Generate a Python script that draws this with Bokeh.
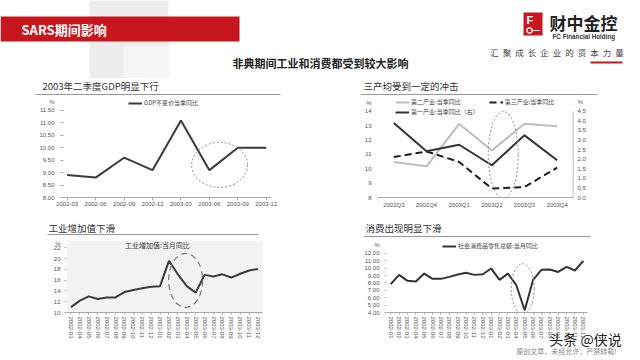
from bokeh.plotting import figure
from bokeh.models import (Range1d, FactorRange, LinearAxis, FixedTicker, NumeralTickFormatter,
                          Legend, LegendItem, AllLabels)
from bokeh.layouts import column, row
from bokeh.embed import file_html
from bokeh.resources import INLINE
from bokeh.core.properties import value

FONT = "Noto Sans CJK SC"
TICKFONT = "Liberation Sans"

# ---------------- data ----------------
gdp_quarters = ["2002-03", "2002-06", "2002-09", "2002-12", "2003-03", "2003-06", "2003-09", "2003-12"]
gdp_yoy = [8.9, 8.8, 9.6, 9.1, 11.1, 9.1, 10.0, 10.0]

ind_quarters = ["2002Q3", "2002Q4", "2003Q1", "2003Q2", "2003Q3", "2003Q4"]
secondary_yoy = [10.47, 10.17, 13.12, 11.27, 13.12, 12.96]
tertiary_yoy = [10.81, 11.20, 10.47, 8.62, 8.73, 10.08]
primary_yoy = [3.88, 2.41, 2.75, 1.68, 3.24, 1.94]

iva_months = ["2002-03", "2002-04", "2002-05", "2002-06", "2002-07", "2002-08", "2002-09",
              "2002-10", "2002-11", "2002-12", "2003-01", "2003-02", "2003-03", "2003-04",
              "2003-05", "2003-06", "2003-07", "2003-08", "2003-09", "2003-10", "2003-11", "2003-12"]
iva_yoy = [11.0, 12.2, 13.0, 12.5, 12.8, 12.8, 13.8, 14.2, 14.5, 14.8, 14.9,
           19.6, 17.1, 14.9, 13.7, 17.0, 16.7, 17.1, 16.5, 17.2, 17.8, 18.1]

retail_months = ["2002-01", "2002-02", "2002-03", "2002-04", "2002-05", "2002-06",
                 "2002-07", "2002-08", "2002-09", "2002-10", "2002-11", "2002-12",
                 "2003-01", "2003-02", "2003-03", "2003-04", "2003-05", "2003-06",
                 "2003-07", "2003-08", "2003-09", "2003-10", "2003-11", "2003-12"]
retail_yoy = [7.84, 9.10, 8.29, 8.20, 9.28, 8.56, 8.56, 8.83, 9.15, 9.38, 9.10, 9.19,
              9.96, 8.42, 9.28, 7.70, 4.30, 8.42, 9.78, 9.83, 9.50, 10.19, 9.69, 11.00]

gdp_ticks = [8.0, 8.5, 9.0, 9.5, 10.0, 10.5, 11.0, 11.5]
left2_ticks = [8, 9, 10, 11, 12, 13, 14]
right2_ticks = [0.0, 0.5, 1.0, 1.5, 2.0, 2.5, 3.0, 3.5, 4.0, 4.5]
iva_ticks = [10, 12, 14, 16, 18, 20, 22]
retail_ticks = [4, 5, 6, 7, 8, 9, 10, 11, 12]

chart_titles = ["2003年二季度GDP明显下行", "三产均受到一定的冲击", "工业增加值下滑", "消费出现明显下滑"]

# where the "%" unit sits above each value axis
gdp_unit, left2_unit, right2_unit, iva_unit, retail_unit = 11.82, 14.6, 4.96, 22.75, 13.18

RED = "#c8161e"


def base_fig(w, h, xr, yr, **kw):
    f = figure(width=w, height=h, x_range=xr, y_range=yr, output_backend="svg",
               toolbar_location=None, **kw)
    f.outline_line_color = None
    f.grid.visible = False
    f.background_fill_color = "white"
    f.border_fill_color = "white"
    return f


def deco_fig(h, y0, y1):
    """full-width decoration band whose data units are page pixels"""
    f = base_fig(640, h, Range1d(0, 640), Range1d(y1, y0),
                 x_axis_type=None, y_axis_type=None, min_border=0)
    return f


def style_axis(ax, tick_out=3, standoff=2):
    ax.axis_line_color = "#a8a8a8"
    ax.major_tick_line_color = "#a8a8a8"
    ax.minor_tick_line_color = None
    ax.major_tick_out = tick_out
    ax.major_tick_in = 0
    ax.major_label_text_font = TICKFONT
    ax.major_label_text_font_size = "6px"
    ax.major_label_text_color = "#555555"
    ax.major_label_standoff = standoff
    ax.major_label_policy = AllLabels()


def unit_axis(ax, ticks, unit, tick_out, standoff, fmt=None):
    """value axis whose top label is the unit '%'; real ticks drawn as minor ticks"""
    ax.ticker = FixedTicker(ticks=ticks + [unit], minor_ticks=ticks)
    if fmt:
        ax.formatter = NumeralTickFormatter(format=fmt)
    ax.major_label_overrides = {unit: "%"}
    style_axis(ax, 0, standoff + tick_out)
    ax.axis_line_color = None
    ax.major_tick_line_color = None
    ax.minor_tick_line_color = "#a8a8a8" if tick_out else None
    ax.minor_tick_out = tick_out
    ax.minor_tick_in = 0


def legend(items, loc, spacing=4):
    return Legend(items=items, location=loc, orientation="horizontal",
                  label_text_font=FONT, label_text_font_size="6px", label_text_color="#444444",
                  glyph_width=14, glyph_height=6, label_height=6, label_standoff=2,
                  padding=0, margin=0, spacing=spacing, border_line_color=None,
                  background_fill_alpha=0)


def title_text(f, x, y, txt):
    f.text(x=[x], y=[y], text=[txt], text_font=value(FONT), text_font_size="9.5px",
           text_baseline="middle", text_align="left", text_color="#333333")


def rule(f, x0, x1, y):
    f.segment(x0=[x0], y0=[y], x1=[x1], y1=[y], line_color="#9a9a9a", line_width=1)


# ---------------- header ----------------
hdr = deco_fig(78, 0, 78)
hdr.quad(left=[89], right=[168], top=[0], bottom=[78], fill_color="#ececec", line_color=None)
hdr.quad(left=[123], right=[168], top=[46], bottom=[78], fill_color="#f5f5f5", line_color=None)
hdr.quad(left=[0], right=[239], top=[16], bottom=[41], fill_color=RED, line_color=None)
hdr.text(x=[21], y=[29], text=["SARS期间影响"], text_font=value(FONT), text_font_size="13px",
         text_font_style="bold", text_color="white", text_baseline="middle")
hdr.text(x=[320], y=[62], text=["非典期间工业和消费都受到较大影响"], text_font=value(FONT),
         text_font_size="11px", text_font_style="bold", text_color="#222222",
         text_align="center", text_baseline="middle")
# logo
hdr.quad(left=[523], right=[542], top=[12], bottom=[35], fill_color=RED, line_color=None)
hdr.text(x=[526], y=[19], text=["F"], text_font=value(TICKFONT), text_font_size="11px",
         text_font_style="bold", text_color="white", text_baseline="middle")
hdr.circle(x=[529], y=[30], radius=[2.6], fill_color=None, line_color="white", line_width=1.3)
hdr.segment(x0=[531.5], y0=[30], x1=[539], y1=[30], line_color="white", line_width=1.2)
hdr.text(x=[549], y=[22], text=["财中金控"], text_font=value(FONT), text_font_size="17px",
         text_font_style="bold", text_color="#222222", text_baseline="middle")
hdr.text(x=[552], y=[35.5], text=["FC Financial Holding"], text_font=value(TICKFONT),
         text_font_size="6.3px", text_font_style="bold", text_color="#333333",
         text_baseline="middle")
slogan = list("汇聚成长企业的资本力量")
hdr.text(x=[494 + 12.5 * i for i in range(len(slogan))], y=[51] * len(slogan), text=slogan,
         text_font=value(FONT), text_font_size="8.5px", text_color="#444444",
         text_align="center", text_baseline="middle")
hdr.segment(x0=[590], y0=[62], x1=[622], y1=[62], line_color=RED, line_width=2)

# ---------------- title bands ----------------
band2 = deco_fig(20, 78, 98)
title_text(band2, 42, 85, chart_titles[0])
rule(band2, 35, 280, 94)
title_text(band2, 363, 85, chart_titles[1])
rule(band2, 360, 597, 94)

band3 = deco_fig(28, 212, 240)
title_text(band3, 48, 227, chart_titles[2])
rule(band3, 47, 258, 234)
title_text(band3, 365, 227, chart_titles[3])
rule(band3, 363, 590, 236)

# ---------------- chart 1: GDP ----------------
idx1 = list(range(len(gdp_quarters)))
p1 = base_fig(320, 114, Range1d(-0.13, 7.15), Range1d(8, 11.98),
              min_border_left=63, min_border_right=50, min_border_top=0, min_border_bottom=15)
r1 = p1.line(idx1, gdp_yoy, line_color="#3a3a3a", line_width=2)
p1.ellipse(x=[5.36], y=[9.31], width=[56], height=[45], width_units="screen",
           height_units="screen", fill_color=None, line_color="#8a8a8a", line_width=1,
           line_dash="2 2")
p1.xaxis.ticker = FixedTicker(ticks=idx1)
p1.xaxis.major_label_overrides = {i: q for i, q in zip(idx1, gdp_quarters)}
style_axis(p1.xaxis[0], 3, 1)
unit_axis(p1.yaxis[0], gdp_ticks, gdp_unit, 3, 3, "0.00")
p1.add_layout(legend([LegendItem(label="GDP不变价当季同比", renderers=[r1])], (65, 90)))

# ---------------- chart 2: industries ----------------
p2 = base_fig(320, 114, FactorRange(factors=ind_quarters), Range1d(8, 14.88),
              min_border_left=57, min_border_right=67, min_border_top=0, min_border_bottom=15)
p2.extra_y_ranges = {"right": Range1d(0, 5.16)}
r2a = p2.line(ind_quarters, secondary_yoy, line_color="#bdbdbd", line_width=2)
r2b = p2.line(ind_quarters, tertiary_yoy, line_color="#1e1e1e", line_width=2, line_dash="7 4")
r2c = p2.line(ind_quarters, primary_yoy, line_color="#333333", line_width=2, y_range_name="right")
p2.ellipse(x=[3.85], y=[10.96], width=[30], height=[87], width_units="screen",
           height_units="screen", fill_color=None, line_color="#8a8a8a", line_width=1,
           line_dash="2 2")
# right axis rule, from 0 to the top tick
p2.segment(x0=[len(ind_quarters)], y0=[right2_ticks[0]], x1=[len(ind_quarters)],
           y1=[right2_ticks[-1]], line_color="#a8a8a8", line_width=1.5, y_range_name="right")
ax_r = LinearAxis(y_range_name="right")
p2.add_layout(ax_r, "right")
style_axis(p2.xaxis[0], 0, 4)
unit_axis(p2.yaxis[0], left2_ticks, left2_unit, 0, 6)
unit_axis(ax_r, right2_ticks, right2_unit, 0, 4, "0.0")
p2.add_layout(legend([LegendItem(label="第二产业:当季同比", renderers=[r2a]),
                      LegendItem(label="第三产业:当季同比", renderers=[r2b])], (18, 91), spacing=28))
p2.add_layout(legend([LegendItem(label="第一产业:当季同比（右）", renderers=[r2c])], (18, 81)))

# ---------------- chart 3: industrial value added ----------------
p3 = base_fig(320, 120, FactorRange(factors=iva_months), Range1d(10, 23.39),
              min_border_left=66, min_border_right=58, min_border_top=0, min_border_bottom=46)
p3.background_fill_color = "#f3f3f3"
p3.line(iva_months, iva_yoy, line_color="#3c3c3c", line_width=2)
p3.ellipse(x=[13.37], y=[15.97], width=[34], height=[54], width_units="screen",
           height_units="screen", fill_color=None, line_color="#7a7a7a", line_width=1.2,
           line_dash="6 4")
style_axis(p3.xaxis[0], 2, 2)
unit_axis(p3.yaxis[0], iva_ticks, iva_unit, 2, 2)
p3.xaxis.major_label_orientation = "vertical"
p3.text(x=[10.2], y=[22.5], text=["工业增加值:当月同比"], text_font=value(FONT),
        text_font_size="7px", text_color="#333333", text_align="center",
        text_baseline="middle")

# ---------------- chart 4: retail sales ----------------
p4 = base_fig(320, 120, FactorRange(factors=retail_months), Range1d(4, 13.76),
              min_border_left=66, min_border_right=53, min_border_top=0, min_border_bottom=48)
r4 = p4.line(retail_months, retail_yoy, line_color="#333333", line_width=2)
p4.ellipse(x=[16.27], y=[7.21], width=[23], height=[50], width_units="screen",
           height_units="screen", fill_color=None, line_color="#8a8a8a", line_width=1,
           line_dash="2 2")
style_axis(p4.xaxis[0], 2, 2)
unit_axis(p4.yaxis[0], retail_ticks, retail_unit, 2, 3, "0.00")
p4.xaxis.major_label_orientation = "vertical"
p4.add_layout(legend([LegendItem(label="社会消费品零售总额:当月同比", renderers=[r4])], (56, 62)))

# watermark overlay (transparent band pulled up over the bottom of the page)
wm = figure(width=640, height=30, x_range=Range1d(0, 640), y_range=Range1d(360, 330),
            output_backend="svg", toolbar_location=None, x_axis_type=None, y_axis_type=None,
            min_border=0)
wm.outline_line_color = None
wm.grid.visible = False
wm.background_fill_alpha = 0
wm.border_fill_alpha = 0
wm.margin = (-30, 0, 0, 0)
wm.text(x=[585], y=[338], text=["头条 @侠说"], text_font=value(FONT), text_font_size="14px",
        text_color="#222222", text_align="center", text_baseline="middle")
wm.text(x=[566], y=[350], text=["原创文章，未经允许，严禁转载!"], text_font=value(FONT),
        text_font_size="7px", text_color="#888888", text_align="center", text_baseline="middle")

layout = column(hdr, band2, row(p1, p2), band3, row(p3, p4), wm)

open("out.html", "w").write(file_html(layout, INLINE))
